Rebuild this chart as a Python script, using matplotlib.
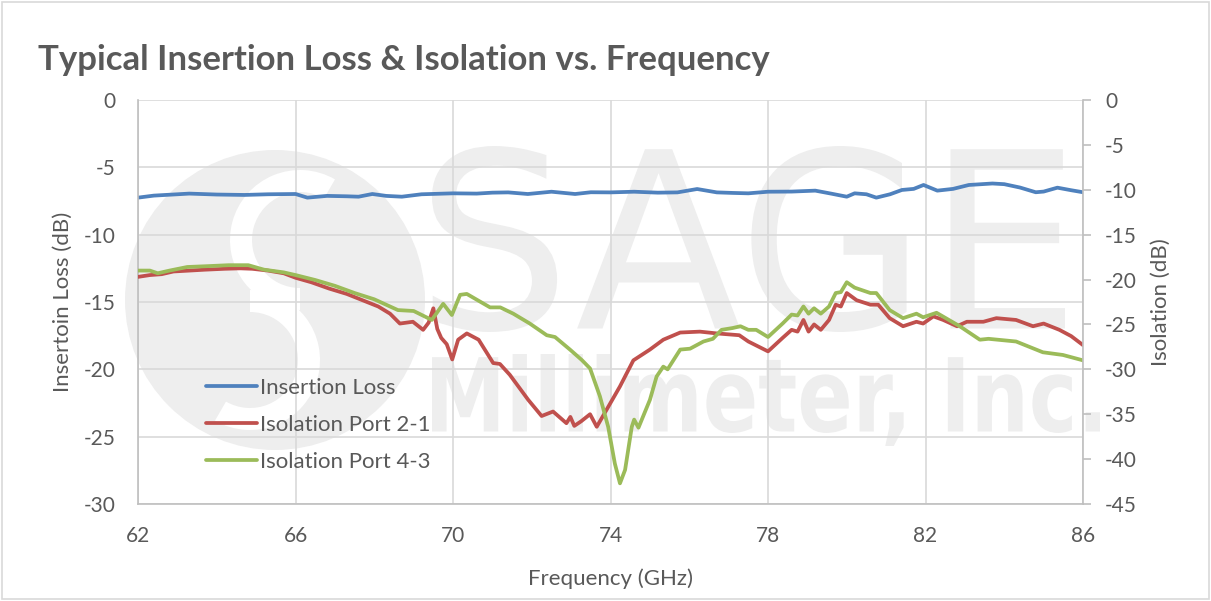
import matplotlib
matplotlib.use("Agg")
import matplotlib.pyplot as plt
from matplotlib.patches import Rectangle, Circle, Wedge, PathPatch
from matplotlib.textpath import TextPath
from matplotlib.font_manager import FontProperties
from matplotlib.transforms import Affine2D

plt.rcParams['font.family'] = ['Lato', 'DejaVu Sans']
plt.rcParams['axes.unicode_minus'] = False

# ---------------- data ----------------
il_freq = [62.0, 62.4, 63.0, 63.3, 64.0, 64.7, 65.3, 66.0, 66.3, 66.8, 67.3, 67.6, 67.95, 68.3, 68.7,
           69.2, 70.0, 70.6, 71.0, 71.4, 71.9, 72.5, 73.1, 73.5, 74.0, 74.6, 75.2, 75.7, 76.2, 76.7,
           77.1, 77.5, 78.0, 78.6, 79.2, 79.6, 80.0, 80.2, 80.5, 80.75, 81.1, 81.4, 81.7, 81.95, 82.3,
           82.7, 83.1, 83.7, 84.0, 84.4, 84.8, 85.0, 85.35, 85.7, 86.0]
il_db = [-7.25, -7.1, -7.0, -6.95, -7.02, -7.05, -7.0, -6.98, -7.25, -7.12, -7.15, -7.18, -6.98, -7.12, -7.18,
         -7.0, -6.93, -6.95, -6.88, -6.86, -6.98, -6.81, -6.98, -6.85, -6.86, -6.81, -6.88, -6.86, -6.61, -6.86,
         -6.9, -6.93, -6.81, -6.8, -6.73, -6.95, -7.18, -6.93, -7.0, -7.25, -7.0, -6.68, -6.6, -6.31, -6.73,
         -6.6, -6.31, -6.2, -6.25, -6.5, -6.85, -6.8, -6.51, -6.7, -6.85]

iso21_freq = [62.0, 62.3, 62.6, 62.9, 63.3, 63.7, 64.2, 64.6, 64.9, 65.3, 65.7, 66.0, 66.4, 66.85, 67.3,
              67.7, 68.1, 68.4, 68.65, 68.98, 69.24, 69.38, 69.5, 69.6, 69.7, 69.84, 69.98, 70.13, 70.35,
              70.65, 71.02, 71.19, 71.44, 71.91, 72.25, 72.54, 72.88, 72.98, 73.08, 73.25, 73.48, 73.65,
              73.9, 74.24, 74.58, 75.0, 75.34, 75.77, 76.27, 76.7, 77.27, 77.5, 78.0, 78.37, 78.6, 78.75,
              78.9, 79.03, 79.17, 79.34, 79.55, 79.72, 79.85, 80.0, 80.25, 80.6, 80.8, 81.09, 81.43, 81.77,
              81.94, 82.2, 82.45, 82.8, 83.05, 83.47, 83.8, 84.3, 84.73, 85.0, 85.4, 85.7, 86.0]
iso21_db = [-19.7, -19.5, -19.4, -19.1, -19.0, -18.9, -18.8, -18.75, -18.8, -19.0, -19.3, -19.8, -20.3, -21.0, -21.6,
            -22.3, -23.0, -23.8, -24.9, -24.7, -25.6, -24.8, -23.2, -25.5, -26.5, -27.2, -28.9, -26.7, -26.0,
            -26.7, -29.3, -29.4, -30.6, -33.4, -35.2, -34.7, -36.0, -35.3, -36.3, -35.8, -35.0, -36.4,
            -34.5, -31.9, -29.0, -27.8, -26.7, -25.9, -25.8, -26.0, -26.2, -26.9, -28.0, -26.5, -25.6, -25.8,
            -24.5, -25.8, -25.0, -25.6, -24.5, -22.8, -23.0, -21.5, -22.3, -22.8, -22.8, -24.3, -25.2, -24.7,
            -24.9, -24.1, -24.5, -25.2, -24.7, -24.7, -24.3, -24.5, -25.2, -24.9, -25.6, -26.3, -27.3]

iso43_freq = [62.0, 62.3, 62.5, 62.8, 63.25, 63.8, 64.3, 64.8, 65.2, 65.7, 66.0, 66.5, 67.0, 67.5, 68.0,
              68.6, 69.0, 69.46, 69.75, 69.97, 70.18, 70.35, 70.94, 71.2, 71.53, 71.95, 72.38, 72.59, 72.97,
              73.27, 73.48, 73.73, 73.94, 74.11, 74.24, 74.37, 74.54, 74.6, 74.71, 75.0, 75.17, 75.34, 75.45,
              75.77, 76.02, 76.36, 76.6, 76.82, 77.1, 77.3, 77.5, 77.7, 78.0, 78.37, 78.6, 78.75, 78.9, 79.03,
              79.17, 79.34, 79.55, 79.72, 79.85, 80.0, 80.2, 80.4, 80.6, 80.75, 81.09, 81.43, 81.77, 81.94,
              82.28, 82.87, 83.38, 83.6, 84.3, 84.98, 85.49, 86.0]
iso43_db = [-19.0, -19.0, -19.3, -19.0, -18.6, -18.5, -18.4, -18.4, -18.9, -19.2, -19.5, -20.05, -20.7, -21.5, -22.2,
            -23.4, -23.5, -24.5, -22.7, -23.95, -21.7, -21.6, -23.1, -23.1, -23.8, -24.9, -26.2, -26.4, -27.8,
            -28.96, -29.9, -33.0, -36.4, -40.5, -42.7, -41.2, -36.4, -35.6, -36.5, -33.4, -30.8, -29.7, -30.0,
            -27.8, -27.7, -26.9, -26.6, -25.6, -25.4, -25.2, -25.6, -25.6, -26.4, -24.9, -23.9, -24.0, -23.0, -23.8,
            -23.2, -23.8, -23.0, -21.5, -21.4, -20.3, -20.9, -21.2, -21.5, -21.5, -23.4, -24.3, -23.8, -24.2,
            -23.7, -25.2, -26.7, -26.6, -26.9, -28.1, -28.4, -29.0]

x_ticks = [62, 66, 70, 74, 78, 82, 86]
left_ticks = [0, -5, -10, -15, -20, -25, -30]
right_ticks = [0, -5, -10, -15, -20, -25, -30, -35, -40, -45]

title = "Typical Insertion Loss & Isolation vs. Frequency"
labels = ["Insertion Loss", "Isolation Port 2-1", "Isolation Port 4-3"]

# ---------------- style ----------------
TXT = "#595959"
GRID = "#d9d9d9"
C_BLUE, C_RED, C_GREEN = "#4f81bd", "#c0504d", "#9bbb59"
WM = "#eeeeee"

fig = plt.figure(figsize=(12.11, 6.01), dpi=100)
fig.patches.append(Rectangle((0.002, 0.004), 0.996, 0.992, transform=fig.transFigure,
                             fill=False, edgecolor="#d9d9d9", linewidth=1.2))

ax = fig.add_axes([0.114, 0.1614, 0.7803, 0.6722])
ax2 = ax.twinx()

# watermark logo (a picture in the original chart), drawn as shapes behind the axes
wm = fig.add_axes([0, 0, 1, 1], zorder=-1)
wm.set_xlim(0, 1211); wm.set_ylim(601, 0); wm.axis("off")
wm.add_patch(Circle((275, 300), 150, color=WM, lw=0))
wm.add_patch(Wedge((300, 240), 70, 90, 300, width=22, color="white", lw=0))
wm.add_patch(Wedge((250, 360), 70, 270, 120, width=22, color="white", lw=0))


def logo_word(s, x0, x1, ybase, height, weight="normal"):
    tp = TextPath((0, 0), s, size=100, prop=FontProperties(family="DejaVu Sans", weight=weight))
    bb = tp.get_extents()
    sx = (x1 - x0) / bb.width
    sy = height / bb.height
    tr = Affine2D().translate(-bb.x0, -bb.y0).scale(sx, -sy).translate(x0, ybase)
    wm.add_patch(PathPatch(tr.transform_path(tp), color=WM, lw=0))


logo_word("SAGE", 432, 1065, 332, 186)
logo_word("Millimeter, Inc.", 432, 1100, 446, 92, weight="bold")

ax.patch.set_alpha(0)
ax2.patch.set_alpha(0)

l1, = ax.plot(il_freq, il_db, color=C_BLUE, lw=2.7, label=labels[0], solid_capstyle="round")
l2, = ax2.plot(iso21_freq, iso21_db, color=C_RED, lw=2.7, label=labels[1], solid_capstyle="round")
l3, = ax2.plot(iso43_freq, iso43_db, color=C_GREEN, lw=2.7, label=labels[2], solid_capstyle="round")

ax.set_xlim(62, 86)
ax.set_ylim(-30, 0)
ax2.set_ylim(-45, 0)
ax.set_xticks(x_ticks)
ax.set_yticks(left_ticks)
ax2.set_yticks(right_ticks)

ax.grid(True, color=GRID, lw=1.2)
ax.set_axisbelow(True)

for a in (ax, ax2):
    for s in a.spines.values():
        s.set_visible(False)
ax.spines["left"].set_visible(True)
ax.spines["bottom"].set_visible(True)
ax2.spines["right"].set_visible(True)
for s in (ax.spines["left"], ax.spines["bottom"], ax2.spines["right"]):
    s.set_color("#bfbfbf"); s.set_linewidth(1.2)

ax.tick_params(axis="x", length=0, labelsize=15, labelcolor=TXT, pad=16)
ax.tick_params(axis="y", length=0, labelsize=15, labelcolor=TXT, pad=16)
ax2.tick_params(axis="y", length=6, width=1.2, color="#bfbfbf", labelsize=15, labelcolor=TXT, pad=10)

ax.set_xlabel("Frequency (GHz)", fontsize=16, color=TXT, labelpad=16)
ax.set_ylabel("Insertoin Loss (dB)", fontsize=16, color=TXT, labelpad=8)
ax2.set_ylabel("Isolation (dB)", fontsize=16, color=TXT, labelpad=10)

fig.text(0.031, 0.9, title, fontsize=25, fontweight="bold", color=TXT, ha="left", va="center")

leg = ax.legend(handles=[l1, l2, l3], loc="upper left", bbox_to_anchor=(0.062, 0.335),
                frameon=False, fontsize=16, labelcolor=TXT, handlelength=2.3,
                handletextpad=0.15, labelspacing=0.78, borderaxespad=0)

fig.savefig("out.png", dpi=100)
